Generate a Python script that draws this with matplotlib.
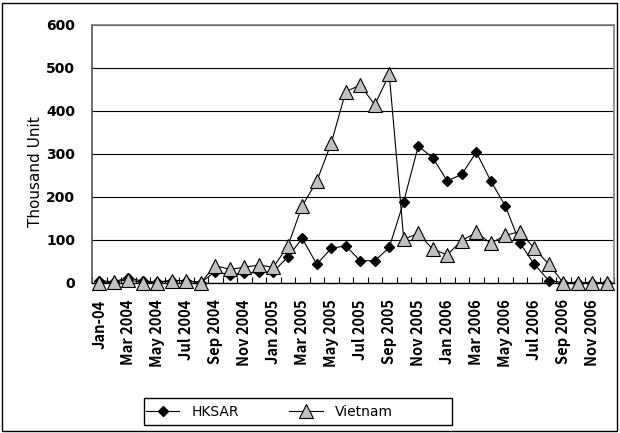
import numpy as np
import matplotlib
matplotlib.use("Agg")
import matplotlib.pyplot as plt
from matplotlib.patches import Rectangle
from matplotlib.ticker import FixedLocator

# monthly imports, Jan 2004 - Dec 2006 (thousand units)
months = ["Jan-04", "Feb 2004", "Mar 2004", "Apr 2004", "May 2004", "Jun 2004",
          "Jul 2004", "Aug 2004", "Sep 2004", "Oct 2004", "Nov 2004", "Dec 2004",
          "Jan 2005", "Feb 2005", "Mar 2005", "Apr 2005", "May 2005", "Jun 2005",
          "Jul 2005", "Aug 2005", "Sep 2005", "Oct 2005", "Nov 2005", "Dec 2005",
          "Jan 2006", "Feb 2006", "Mar 2006", "Apr 2006", "May 2006", "Jun 2006",
          "Jul 2006", "Aug 2006", "Sep 2006", "Oct 2006", "Nov 2006", "Dec 2006"]
hksar = [5, 2, 12, 3, 2, 5, 5, 0, 26, 18, 22, 24, 25, 60, 103, 43, 80, 86,
         51, 51, 82, 189, 318, 291, 237, 252, 304, 237, 179, 93, 43, 5, 0, 0, 0, 0]
vietnam = [0, 2, 7, 0, 0, 5, 5, 0, 40, 31, 36, 41, 36, 85, 179, 236, 325, 445,
           460, 414, 485, 101, 115, 78, 65, 98, 117, 92, 110, 119, 80, 43, 0, 0, 0, 0]
y_ticks = [0, 100, 200, 300, 400, 500, 600]

bold_font = ["Noto Sans CJK JP", "DejaVu Sans"]

fig = plt.figure(figsize=(6.2, 4.33), dpi=100)
ax = fig.add_axes([92 / 620, 1 - 282.7 / 433, 522 / 620, 257.7 / 433])

x = np.arange(len(months))
ax.plot(x, hksar, color="black", lw=0.8, marker="D", ms=5,
        mfc="black", mec="black", label="HKSAR", zorder=3, clip_on=False)
ax.plot(x, vietnam, color="black", lw=0.8, marker="^", ms=9.5,
        mfc="#c0c0c0", mec="black", mew=0.8, label="Vietnam", zorder=4,
        clip_on=False)

ax.set_xlim(-0.5, len(months) - 0.5)
ax.set_ylim(0, 600)
ax.set_yticks(y_ticks)
ax.set_yticklabels([str(v) for v in y_ticks], fontweight="bold", fontsize=10,
                   family="DejaVu Sans")
ax.set_xticks(x[::2])
ax.set_xticklabels(months[::2], rotation=90, fontweight="bold", fontsize=10.6,
                   family=bold_font)
ax.xaxis.set_minor_locator(FixedLocator(np.arange(-0.5, len(months), 1)))
ax.tick_params(axis="x", which="major", length=0, pad=12)
ax.tick_params(axis="x", which="minor", direction="in", length=4, width=0.8)
ax.tick_params(axis="y", length=0, pad=12)

ax.grid(axis="y", color="black", lw=0.8)
ax.set_axisbelow(True)
for side in ["top", "right"]:
    ax.spines[side].set_color("#808080")
    ax.spines[side].set_linewidth(1.2)
ax.spines["left"].set_color("#555555")
ax.spines["left"].set_linewidth(1.2)
ax.spines["bottom"].set_color("black")
ax.spines["bottom"].set_linewidth(1)

fig.text(35 / 620, 1 - 172 / 433, "Thousand Unit", rotation=90,
         ha="center", va="center", fontsize=11)

# legend with an Excel-like wide frame
fig.legend(loc="center left", bbox_to_anchor=(146 / 620, 1 - 411.5 / 433),
           ncol=2, frameon=False, fontsize=10, handlelength=2.4,
           handletextpad=0.9, columnspacing=3.6, borderaxespad=0, borderpad=0)
fig.patches.append(Rectangle((144 / 620, 1 - 425 / 433), 308 / 620, 27 / 433,
                             transform=fig.transFigure, fill=False,
                             edgecolor="black", lw=1))
# outer chart border
fig.patches.append(Rectangle((2 / 620, 2 / 433), 615 / 620, 428 / 433,
                             transform=fig.transFigure, fill=False,
                             edgecolor="black", lw=1))

fig.savefig("out.png", dpi=100)
